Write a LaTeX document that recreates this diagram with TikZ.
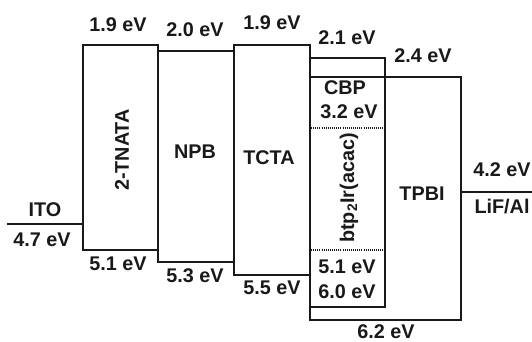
\documentclass[tikz,border=0pt]{standalone}
\usepackage{fontspec}
\setmainfont{Liberation Sans}
\begin{document}
\begin{tikzpicture}[x=1pt,y=-1pt,
  lvl/.style={draw=black!90,line width=1.5pt},
  dots/.style={draw=black!90,line width=1.1pt,dash pattern=on 1pt off 1.1pt},
  lbl/.style={font=\fontsize{19.8}{20}\selectfont\bfseries,text=black!90,inner sep=0pt}]
\useasboundingbox (0,0) rectangle (532,342);
% levels
\coordinate (itoL) at (7,224);
\coordinate (itoR) at (83,224);
\draw[lvl] (itoL) -- (itoR);
\draw[lvl] (83,45) rectangle (158,250);
\draw[lvl] (158,51) rectangle (234,262);
\draw[lvl] (234,45) rectangle (310,275);
\draw[lvl] (310,77) rectangle (461,320);
\draw[lvl] (310,58) rectangle (385,307);
\coordinate (lifL) at (461,192);
\coordinate (lifR) at (532,192);
\draw[lvl] (lifL) -- (lifR);
\coordinate (d1L) at (311,128); \coordinate (d1R) at (384,128);
\coordinate (d2L) at (311,250); \coordinate (d2R) at (384,250);
\draw[dots] (d1L) -- (d1R);
\draw[dots] (d2L) -- (d2R);
% labels
\node[lbl] (t1) at (118,25) {1.9 eV};
\node[lbl] (t2) at (195,30) {2.0 eV};
\node[lbl] (t3) at (272,23) {1.9 eV};
\node[lbl] (t4) at (347,38) {2.1 eV};
\node[lbl] (t5) at (423,56) {2.4 eV};
\node[lbl] (cbp) at (345,88) {CBP};
\node[lbl] (t6) at (349,112) {3.2 eV};
\node[lbl,rotate=90] (dop) at (349,188) {btp\textsubscript{2}Ir(acac)};
\node[lbl] (t7) at (347,267) {5.1 eV};
\node[lbl] (t8) at (347,292) {6.0 eV};
\node[lbl] (t9) at (386,332) {6.2 eV};
\node[lbl] (tpbi) at (422,194) {TPBI};
\node[lbl] (t10) at (502,170) {4.2 eV};
\node[lbl] (lif) at (502,207) {LiF/Al};
\node[lbl] (ito) at (45,210) {ITO};
\node[lbl] (t11) at (42,240) {4.7 eV};
\node[lbl] (t12) at (118,264) {5.1 eV};
\node[lbl] (t13) at (195,276) {5.3 eV};
\node[lbl] (t14) at (272,288) {5.5 eV};
\node[lbl,rotate=90] (tnata) at (122,150) {2-TNATA};
\node[lbl] (npb) at (195,152) {NPB};
\node[lbl] (tcta) at (269,158) {TCTA};
\end{tikzpicture}
\end{document}
